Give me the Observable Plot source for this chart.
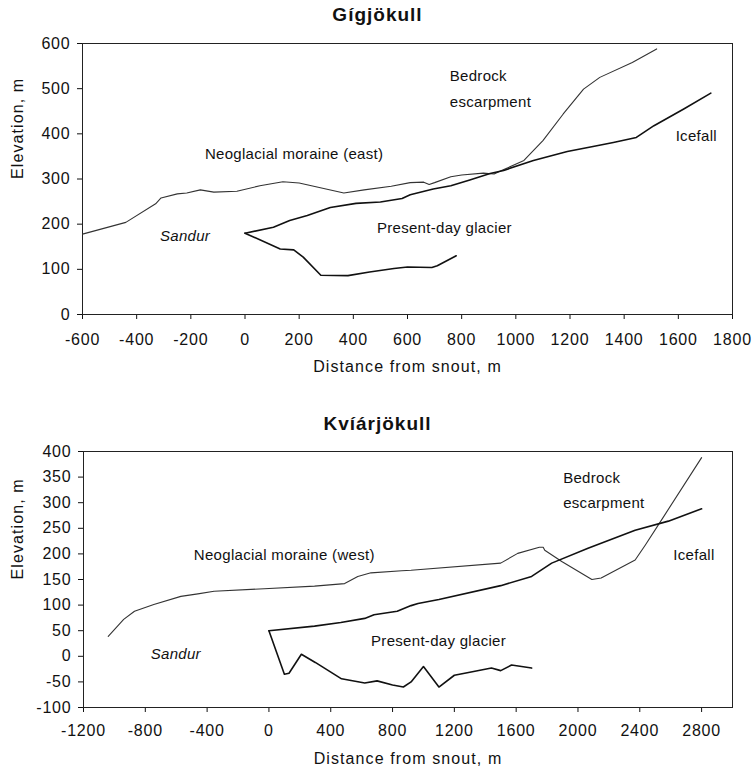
<!DOCTYPE html>
<html><head><meta charset="utf-8">
<script src="https://cdn.jsdelivr.net/npm/d3@7"></script>
<script src="https://cdn.jsdelivr.net/npm/@observablehq/plot@0.6"></script>
<style>
body{margin:0;background:#fff;font-family:"Liberation Sans",Arial,sans-serif;color:#111;}
.title{width:755px;text-align:center;font-weight:bold;font-size:19px;letter-spacing:1px;}
svg{display:block;}
</style></head><body>
<div id="c"></div>
<script>
// ---------- Gígjökull ----------
const gigTitle = "Gígjökull";
const gigMoraineX = [-600,-440,-330,-310,-250,-215,-165,-115,-30,55,140,200,365,440,540,610,660,680,700,760,800,880,920,945,1030,1100,1175,1250,1310,1430,1520];
const gigMoraineY = [178,204,245,258,267,269,276,271,273,285,294,291,269,276,284,292,293,288,292,305,309,313,311,318,341,385,444,499,525,558,588];
const gigSurfaceX = [0,105,165,230,315,410,500,580,610,695,760,830,905,955,1065,1190,1285,1360,1445,1510,1620,1720];
const gigSurfaceY = [180,193,208,219,237,246,249,257,265,278,285,298,312,319,341,361,372,381,392,418,455,490];
const gigBedX = [0,130,180,215,280,380,460,550,600,690,710,780];
const gigBedY = [180,145,143,127,87,86,94,102,105,104,108,130];
const gigXTicks = [-600,-400,-200,0,200,400,600,800,1000,1200,1400,1600,1800];
const gigYTicks = [0,100,200,300,400,500,600];
const gigLabels = ["Neoglacial moraine (east)","Present-day glacier","Bedrock","escarpment","Icefall"];
const gigLabelX = [-148,487,756,756,1590];
const gigLabelY = [356,192,527,470,394];
const gigSandur = {x: -314, y: 173};

// ---------- Kvíárjökull ----------
const kviTitle = "Kvíárjökull";
const kviMoraineX = [-1040,-940,-870,-745,-570,-460,-355,-30,295,490,575,660,860,920,1500,1610,1750,1775,1785,1895,2090,2150,2370,2435,2540,2800];
const kviMoraineY = [39,72,88,101,117,122,127,132,137,142,156,163,167,168,182,201,213,213,207,185,150,153,188,217,266,388];
const kviSurfaceX = [0,295,465,620,680,830,920,965,1100,1500,1700,1830,2065,2370,2585,2800];
const kviSurfaceY = [50,59,66,74,81,88,99,103,111,138,156,182,211,246,264,288];
const kviBedX = [0,100,130,210,300,470,620,700,800,870,920,1000,1100,1200,1300,1440,1500,1570,1700];
const kviBedY = [50,-35,-33,4,-12,-44,-52,-48,-56,-60,-50,-20,-60,-37,-31,-23,-28,-17,-23];
const kviXTicks = [-1200,-800,-400,0,400,800,1200,1600,2000,2400,2800];
const kviYTicks = [-100,-50,0,50,100,150,200,250,300,350,400];
const kviLabels = ["Neoglacial moraine (west)","Present-day glacier","Bedrock","escarpment","Icefall"];
const kviLabelX = [-486,661,1904,1904,2617];
const kviLabelY = [198,30,347,299,198];
const kviSandur = {x: -765, y: 4};

const xTitle = "Distance from snout, m";
const yTitle = "Elevation, m";

const zip = (xs, ys) => xs.map((x, i) => ({x, y: ys[i]}));
const zipL = (ts, xs, ys) => ts.map((t, i) => ({t, x: xs[i], y: ys[i]}));
const fmt = d => String(d);

function chart(cfg) {
  const svg = Plot.plot({
    width: 755,
    height: cfg.height,
    marginLeft: cfg.ml,
    marginRight: 23,
    marginTop: cfg.mt,
    marginBottom: cfg.mb,
    style: {fontFamily: '"Liberation Sans", Arial, sans-serif', fontSize: "16px", letterSpacing: "0.8px", color: "#111", background: "#fff"},
    x: {domain: cfg.xd, ticks: cfg.xt, tickFormat: fmt, tickSize: 5, tickPadding: cfg.xpad, label: null},
    y: {domain: cfg.yd, ticks: cfg.yt, tickFormat: fmt, tickSize: 5, tickPadding: 7, label: null},
    marks: [
      Plot.frame({stroke: "#222", strokeWidth: 1}),
      Plot.line(zip(cfg.mx, cfg.my), {x: "x", y: "y", stroke: "#333", strokeWidth: 1.1}),
      Plot.line(zip(cfg.sx, cfg.sy), {x: "x", y: "y", stroke: "#111", strokeWidth: 1.6}),
      Plot.line(zip(cfg.bx, cfg.by), {x: "x", y: "y", stroke: "#111", strokeWidth: 1.6}),
      Plot.text(zipL(cfg.lt, cfg.lx, cfg.ly), {x: "x", y: "y", text: "t", textAnchor: "start", fill: "#111", fontSize: 15}),
      Plot.text([cfg.sandur], {x: "x", y: "y", text: () => "Sandur", textAnchor: "start", fontStyle: "italic", fill: "#111", fontSize: 15}),
      Plot.text([xTitle], {frameAnchor: "bottom", dy: cfg.xTitleDy, text: d => d, fill: "#111", fontSize: 16}),
      Plot.text([yTitle], {frameAnchor: "left", dx: -(cfg.ml - 17), rotate: -90, text: d => d, fill: "#111", fontSize: 16})
    ]
  });
  svg.querySelectorAll("text").forEach(t => {
    const txt = t.textContent;
    if (txt === xTitle || txt === yTitle) t.style.letterSpacing = "1.1px";
    else if (t.closest("[aria-label^='text']")) t.style.letterSpacing = "0.3px";
  });
  return svg;
}

const c = document.getElementById("c");
const t1 = document.createElement("div");
t1.className = "title"; t1.style.height = "30px"; t1.style.lineHeight = "30px"; t1.textContent = gigTitle;
c.appendChild(t1);
c.appendChild(chart({
  height: 377, ml: 82, mt: 13, mb: 93, xd: [-600, 1800], yd: [0, 600], xt: gigXTicks, yt: gigYTicks, xpad: 14,
  mx: gigMoraineX, my: gigMoraineY, sx: gigSurfaceX, sy: gigSurfaceY, bx: gigBedX, by: gigBedY,
  lt: gigLabels, lx: gigLabelX, ly: gigLabelY, sandur: gigSandur, xTitleDy: 57
}));
const t2 = document.createElement("div");
t2.className = "title"; t2.style.height = "34px"; t2.style.lineHeight = "34px"; t2.textContent = kviTitle;
c.appendChild(t2);
c.appendChild(chart({
  height: 336, ml: 83, mt: 10, mb: 70, xd: [-1200, 3000], yd: [-100, 400], xt: kviXTicks, yt: kviYTicks, xpad: 12,
  mx: kviMoraineX, my: kviMoraineY, sx: kviSurfaceX, sy: kviSurfaceY, bx: kviBedX, by: kviBedY,
  lt: kviLabels, lx: kviLabelX, ly: kviLabelY, sandur: kviSandur, xTitleDy: 56
}));
</script>
</body></html>
